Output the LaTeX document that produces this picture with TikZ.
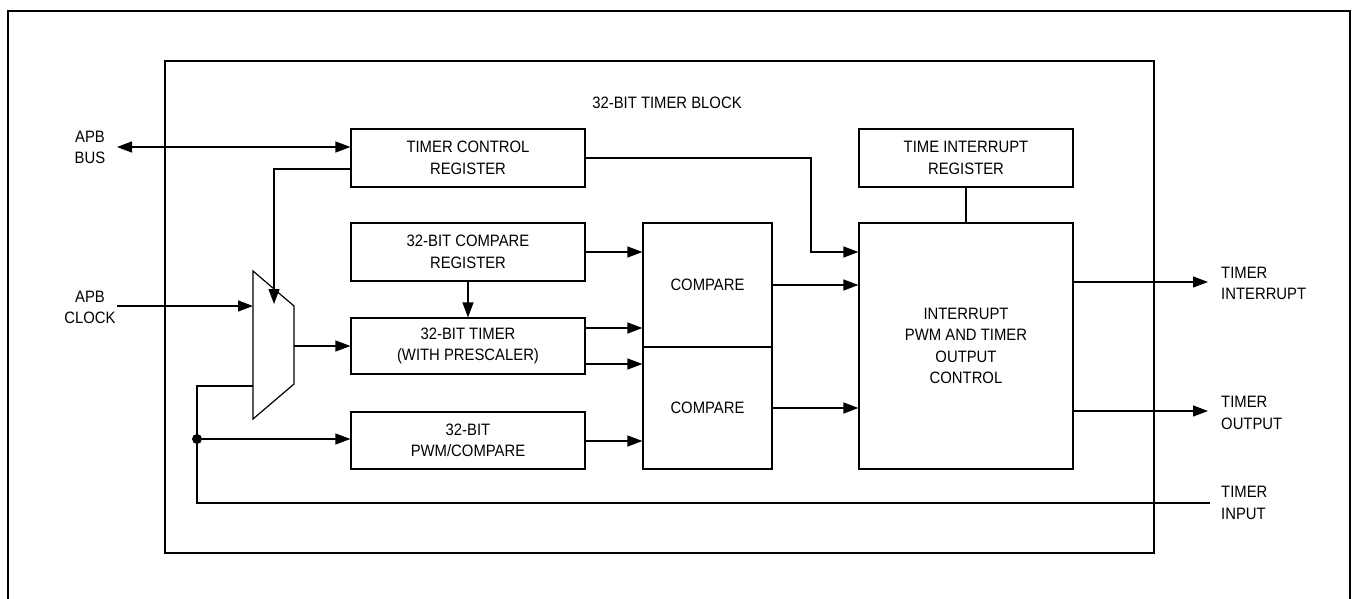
\documentclass[tikz,border=0pt]{standalone}
\usepackage{fontspec}
\setmainfont[FakeStretch=0.90]{Liberation Sans}
\usetikzlibrary{arrows.meta}
\begin{document}
\begin{tikzpicture}[x=1pt,y=-1pt, font=\fontsize{16.5}{21.5}\selectfont,
  box/.style={draw, line width=1.2pt, inner sep=0pt, align=center},
  wire/.style={line width=1.2pt},
  tip/.tip={Triangle[length=15pt,width=11pt]},
  arr/.style={wire, -tip},
  lbl/.style={inner sep=0pt, align=left, anchor=west}]
\useasboundingbox (0,0) rectangle (1353,599);
\fill[white] (0,0) rectangle (1353,599);
% frames
\draw[line width=2pt] (8,599) -- (8,11) -- (1350,11) -- (1350,599);
\draw[line width=1.2pt] (165,61) rectangle (1154,553);
\node (title) at (667,103) {32-BIT TIMER BLOCK};
% boxes
\node[box, minimum width=234pt, minimum height=58pt] (tcr) at (468,158) {TIMER CONTROL\\REGISTER};
\node[box, minimum width=234pt, minimum height=58pt] (cmpreg) at (468,252) {32-BIT COMPARE\\REGISTER};
\node[box, minimum width=234pt, minimum height=56pt] (timer) at (468,346) {32-BIT TIMER\\(WITH PRESCALER)};
\node[box, minimum width=234pt, minimum height=57pt] (pwm) at (468,440.5) {32-BIT\\PWM/COMPARE};
\node[box, minimum width=129pt, minimum height=124pt] (cmp1) at (707.5,285) {COMPARE};
\node[box, minimum width=129pt, minimum height=122pt] (cmp2) at (707.5,408) {COMPARE};
\node[box, minimum width=214pt, minimum height=58pt] (tir) at (966,158) {TIME INTERRUPT\\REGISTER};
\node[box, minimum width=214pt, minimum height=246pt] (ctrl) at (966,346) {INTERRUPT\\PWM AND TIMER\\OUTPUT\\CONTROL};
% mux
\draw[wire, line join=miter] (253,271) -- (294,306) -- (294,384) -- (253,419) -- cycle;
\coordinate (muxin1) at (253,306);
\coordinate (muxin2) at (253,386);
\coordinate (muxsel) at (274,304);
\coordinate (muxout) at (294,346);
% labels
\node[inner sep=0pt, align=center] (apbbus) at (90,147.5) {APB\\BUS};
\node[inner sep=0pt, align=center] (apbclk) at (90,307.5) {APB\\CLOCK};
\node[lbl] (tint) at (1221,283.5) {TIMER\\INTERRUPT};
\node[lbl] (tout) at (1221,413) {TIMER\\OUTPUT};
\node[lbl] (tin) at (1221,503) {TIMER\\INPUT};
\coordinate (busL) at (117,147);
\coordinate (clkL) at (117,306);
\coordinate (tinR) at (1210,503);
\coordinate (tintR) at (1208,282);
\coordinate (toutR) at (1208,411);
\coordinate (dot) at (197,439);
% connectors
\draw[wire, tip-tip] (busL) -- (tcr.west |- busL);
\draw[arr] (tcr.west |- 0,169) -| (muxsel);
\draw[arr] (clkL) -- (muxin1);
\draw[arr] (muxout) -- (timer.west);
\draw[wire] (muxin2) -| (dot) |- (tinR);
\fill (dot) circle (5pt);
\draw[arr] (dot) -- (pwm.west |- dot);
\draw[arr] (cmpreg.south) -- (timer.north);
\draw[arr] (cmpreg.east) -- (cmp1.west |- cmpreg.east);
\draw[arr] (timer.east |- 0,328) -- (cmp1.west |- 0,328);
\draw[arr] (timer.east |- 0,364) -- (cmp2.west |- 0,364);
\draw[arr] (pwm.east |- 0,441) -- (cmp2.west |- 0,441);
\draw[arr] (cmp1.east) -- (ctrl.west |- cmp1.east);
\draw[arr] (cmp2.east) -- (ctrl.west |- cmp2.east);
\draw[arr] (tcr.east) -- (811,158) |- (ctrl.west |- 0,252);
\draw[wire] (tir.south) -- (ctrl.north);
\draw[arr] (ctrl.east |- tintR) -- (tintR);
\draw[arr] (ctrl.east |- toutR) -- (toutR);
\end{tikzpicture}
\end{document}
